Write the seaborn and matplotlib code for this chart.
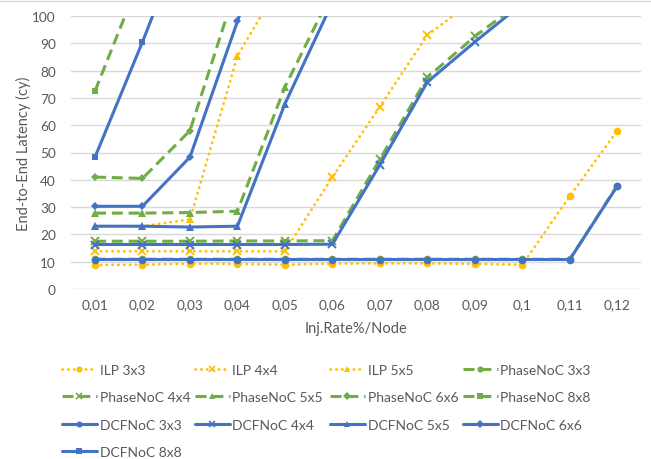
import matplotlib
matplotlib.use("Agg")
import matplotlib.pyplot as plt
from matplotlib.lines import Line2D
import numpy as np
import pandas as pd
import seaborn as sns

# Injection rates (category axis)
rates = ["0,01", "0,02", "0,03", "0,04", "0,05", "0,06",
         "0,07", "0,08", "0,09", "0,1", "0,11", "0,12"]

# End-to-end latency (cycles); None = not measured, values above 100 are cut by the axis
ilp_3x3 = [8.8, 8.9, 9.3, 9.2, 8.9, 9.3, 9.4, 9.4, 9.2, 8.9, 34.0, 58.0]
ilp_4x4 = [13.8, 13.8, 13.8, 13.8, 13.8, 41.0, 66.8, 93.0, 106.0, None, None, None]
ilp_5x5 = [23.0, 23.0, 25.5, 85.3, 115.0, None, None, None, None, None, None, None]
phase_3x3 = [10.9, 10.9, 10.9, 10.9, 10.9, 10.9, 10.9, 10.9, 10.9, 10.9, 10.9, 37.9]
phase_4x4 = [17.5, 17.5, 17.5, 17.6, 17.6, 17.7, 47.5, 77.5, 92.5, 105.5, None, None]
phase_5x5 = [27.8, 27.8, 28.0, 28.5, 74.0, 109.0, None, None, None, None, None, None]
phase_6x6 = [41.0, 40.5, 58.0, 112.0, None, None, None, None, None, None, None, None]
phase_8x8 = [72.5, 116.0, None, None, None, None, None, None, None, None, None, None]
dcf_3x3 = [10.8, 10.8, 10.8, 10.8, 10.8, 10.8, 10.8, 10.8, 10.8, 10.8, 10.8, 37.7]
dcf_4x4 = [16.3, 16.3, 16.3, 16.3, 16.3, 16.4, 45.5, 75.8, 90.5, 104.5, None, None]
dcf_5x5 = [23.0, 23.0, 22.7, 23.0, 67.8, 105.0, None, None, None, None, None, None]
dcf_6x6 = [30.3, 30.3, 48.3, 98.0, 150.0, None, None, None, None, None, None, None]
dcf_8x8 = [48.3, 90.5, 135.0, None, None, None, None, None, None, None, None, None]

YELLOW = "#FFC000"
GREEN = "#70AD47"
BLUE = "#4472C4"
TEXT = "#595959"
GRID = "#D9D9D9"

DOT = (0, (0.1, 2.0))
DASH = (0, (3.6, 1.9))
SOLID = "-"

series = [
    ("ILP 3x3", ilp_3x3, YELLOW, DOT, "o", 5.5),
    ("ILP 4x4", ilp_4x4, YELLOW, DOT, "x", 5.5),
    ("ILP 5x5", ilp_5x5, YELLOW, DOT, "^", 5.5),
    ("PhaseNoC 3x3", phase_3x3, GREEN, DASH, "o", 5.5),
    ("PhaseNoC 4x4", phase_4x4, GREEN, DASH, "x", 5.5),
    ("PhaseNoC 5x5", phase_5x5, GREEN, DASH, "^", 5.5),
    ("PhaseNoC 6x6", phase_6x6, GREEN, DASH, "D", 4.5),
    ("PhaseNoC 8x8", phase_8x8, GREEN, DASH, "s", 5.0),
    ("DCFNoC 3x3", dcf_3x3, BLUE, SOLID, "o", 5.5),
    ("DCFNoC 4x4", dcf_4x4, BLUE, SOLID, "x", 5.5),
    ("DCFNoC 5x5", dcf_5x5, BLUE, SOLID, "^", 5.5),
    ("DCFNoC 6x6", dcf_6x6, BLUE, SOLID, "D", 4.5),
    ("DCFNoC 8x8", dcf_8x8, BLUE, SOLID, "s", 5.0),
]

sns.set_theme(style="white")
plt.rcParams["font.family"] = ["Lato", "DejaVu Sans"]

W, H = 651, 460
AX_L, AX_R, AX_T, AX_B = 71.25, 641.0, 17.0, 290.0
fig = plt.figure(figsize=(W / 100, H / 100), dpi=100)
ax = fig.add_axes([AX_L / W, 1 - AX_B / H, (AX_R - AX_L) / W, (AX_B - AX_T) / H])

xpos = np.arange(len(rates))
handles = []
for label, vals, color, ls, mk, ms in series:
    df = pd.DataFrame({"x": xpos, "y": pd.array(vals, dtype="Float64").astype(float)})
    df = df.dropna()
    lw = 2.0 if ls == DOT else 2.2
    sns.lineplot(data=df, x="x", y="y", ax=ax, color=color, linewidth=lw,
                 linestyle=ls, marker=mk, markersize=ms,
                 markeredgewidth=1.4 if mk == "x" else 0,
                 markeredgecolor=color, markerfacecolor=color,
                 dash_capstyle="round" if ls == DOT else "butt",
                 legend=False, clip_on=True, zorder=3)
    handles.append(Line2D([0], [0], color=color, linewidth=lw, linestyle=ls,
                          marker=mk, markersize=ms * 0.8,
                          markeredgewidth=1.2 if mk == "x" else 0,
                          markeredgecolor=color, markerfacecolor=color,
                          dash_capstyle="round" if ls == DOT else "butt"))

ax.set_xlim(-0.5, len(rates) - 0.5)
ax.set_ylim(0, 100)
ax.set_yticks(np.arange(0, 101, 10))
ax.set_xticks(xpos)
ax.set_xticklabels(rates)
ax.yaxis.grid(True, color=GRID, linewidth=1.0, zorder=0)
ax.xaxis.grid(False)
ax.set_axisbelow(True)
for s in ax.spines.values():
    s.set_visible(False)
ax.tick_params(axis="both", length=0, colors=TEXT, labelsize=9.8)
ax.tick_params(axis="y", pad=11)
ax.tick_params(axis="x", pad=6.3)

ax_h = AX_B - AX_T
ax_w = AX_R - AX_L
ax.set_xlabel("Inj.Rate%/Node", color=TEXT, fontsize=10.5)
ax.xaxis.set_label_coords(0.5, (AX_B - 321.5) / ax_h)
ax.set_ylabel("End-to-End Latency (cy)", color=TEXT, fontsize=10.5)
ax.yaxis.set_label_coords((31.5 - AX_L) / ax_w, 0.5)

# legend: four columns, one entry per slot, filled row by row
col_x = [62, 195, 330, 463]
row_y = [371, 398, 426, 453]
for i, (h, s) in enumerate(zip(handles, series)):
    r, c = divmod(i, 4)
    fig.legend([h], [s[0]], loc="center left",
               bbox_to_anchor=(col_x[c] / W, 1 - row_y[r] / H),
               frameon=False, fontsize=10, labelcolor=TEXT,
               handlelength=2.5, handletextpad=0.2,
               borderpad=0, borderaxespad=0)

# light chart border along the top edge
fig.add_artist(Line2D([0, 1], [1 - 1.5 / H, 1 - 1.5 / H], transform=fig.transFigure,
                      color=GRID, linewidth=1.0))

fig.savefig("out.png", dpi=100)
